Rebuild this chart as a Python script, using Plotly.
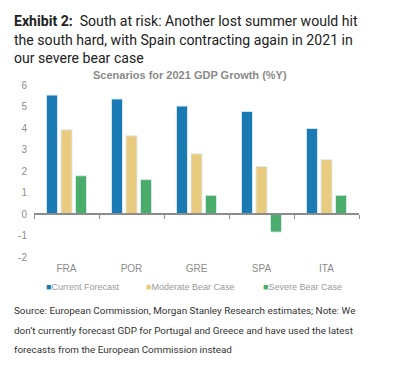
import plotly.graph_objects as go

categories = ["FRA", "POR", "GRE", "SPA", "ITA"]
current_forecast = [5.53, 5.35, 5.02, 4.77, 3.98]
moderate_bear = [3.92, 3.64, 2.80, 2.21, 2.53]
severe_bear = [1.78, 1.60, 0.87, -0.84, 0.87]
series_names = ["Current Forecast", "Moderate Bear Case", "Severe Bear Case"]
series_colors = ["#1a7bb4", "#e9cb7f", "#4aad6b"]
y_ticks = [-2, -1, 0, 1, 2, 3, 4, 5, 6]
y_tick_labels = ["-2", "-1", "0", "1", "2", "3", "4", "5", "6"]

# the page body has an 8px margin; work in window pixels and shift into figure space
OFF = 8
W, H = 400 - OFF, 369 - OFF
L, R, T, B = 34 - OFF, 41, 85 - OFF, 112
PW, PH = W - L - R, H - T - B


def px(x):
    return (x - OFF - L) / PW


def py(y):
    return (H - B - (y - OFF)) / PH


fig = go.Figure()
for name, vals, col in zip(series_names, [current_forecast, moderate_bear, severe_bear], series_colors):
    fig.add_trace(go.Bar(
        x=categories, y=vals, name=name,
        marker=dict(color=col, line=dict(color="rgba(220,235,245,0.9)", width=1)),
        showlegend=False,
    ))

fig.update_layout(
    width=W, height=H,
    margin=dict(l=L, r=R, t=T, b=B, autoexpand=False),
    paper_bgcolor="white", plot_bgcolor="white",
    barmode="group", bargap=0.33, bargroupgap=0.24,
    font=dict(family="Liberation Sans, Arial", color="#7f7f7f", size=10),
    xaxis=dict(
        type="category", showline=False, ticks="", showgrid=False, automargin=False,
        tickfont=dict(size=10, color="#8c8c8c"), ticklabelstandoff=4,
    ),
    xaxis2=dict(
        overlaying="x", anchor="free", position=0.25, automargin=False,
        type="linear", range=[-0.5, 4.5], showline=True, linecolor="#8c8c8c", linewidth=1.5,
        ticks="outside", ticklen=4, tickcolor="#8c8c8c", tickwidth=1,
        tickvals=[-0.5, 0.5, 1.5, 2.5, 3.5, 4.5], showticklabels=False, showgrid=False,
        zeroline=False,
    ),
    yaxis=dict(
        range=[-2, 6], tickvals=y_ticks, ticktext=y_tick_labels,
        showgrid=False, zeroline=False, automargin=False,
        showline=False, ticks="", tickfont=dict(size=10, color="#8c8c8c"),
        ticklabelstandoff=6,
    ),
)
# helper trace that attaches to the zero-line axis
fig.add_trace(go.Scatter(x=[None], y=[None], xaxis="x2", showlegend=False, hoverinfo="skip"))

annotations = []
title_lines = [
    "<b>Exhibit 2:</b>  South at risk: Another lost summer would hit",
    "the south hard, with Spain contracting again in 2021 in",
    "our severe bear case",
]
for i, line in enumerate(title_lines):
    annotations.append(dict(
        text=line, x=px(12), y=py(21 + i * 18.7), xref="paper", yref="paper",
        xanchor="left", yanchor="middle", showarrow=False,
        font=dict(family="Roboto", size=14.1, color="#222222"),
    ))
annotations.append(dict(
    text="<b>Scenarios for 2021 GDP Growth (%Y)</b>", x=px(190), y=py(75),
    xref="paper", yref="paper", xanchor="center", yanchor="middle", showarrow=False,
    font=dict(family="Liberation Sans, Arial", size=11, color="#8a8a8a"),
))
legend_x = [44, 144, 261]
for name, col, lx in zip(series_names, series_colors, legend_x):
    annotations.append(dict(
        text=f"<span style='color:{col}'>■</span>{name}", x=px(lx), y=py(287),
        xref="paper", yref="paper", xanchor="left", yanchor="middle", showarrow=False,
        font=dict(family="Liberation Sans, Arial", size=9, color="#9a9a9a"),
    ))
source_lines = [
    "Source: European Commission, Morgan Stanley Research estimates; Note: We",
    "don’t currently forecast GDP for Portugal and Greece and have used the latest",
    "forecasts from the European Commission instead",
]
for i, line in enumerate(source_lines):
    annotations.append(dict(
        text=line, x=px(12), y=py(310.5 + i * 19.5), xref="paper", yref="paper",
        xanchor="left", yanchor="middle", showarrow=False,
        font=dict(family="Roboto", size=9.9, color="#333333"),
    ))
fig.update_layout(annotations=annotations)

fig.write_html("out.html")
